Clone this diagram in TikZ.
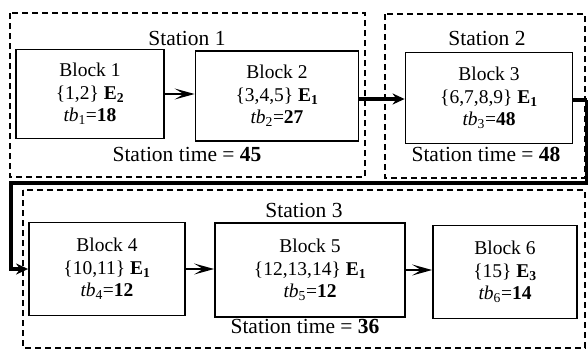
\documentclass[tikz,border=0pt]{standalone}
\usepackage{fontspec}
\setmainfont{Liberation Serif}
\usetikzlibrary{arrows.meta}
\tikzset{
  blk/.style={draw, line width=1.8pt, align=center, inner sep=0pt,
    font=\fontsize{19.5}{22.5}\selectfont},
  stn/.style={draw, dashed, dash pattern=on 6pt off 4pt, line width=1.4pt},
  lbl/.style={inner sep=0pt, font=\fontsize{21.5}{24}\selectfont},
  flow arrow/.style={line width=1.4pt, -{Stealth[length=20pt,width=11pt,inset=9pt]}},
  heavy arrow/.style={line width=4pt, -{Stealth[length=12pt,width=11pt]}},
  heavy line/.style={line width=4pt}
}
\begin{document}
\begin{tikzpicture}[x=1pt,y=-1pt]
\useasboundingbox (0,0) rectangle (588,351);
% stations
\draw[stn] (10,13) rectangle (365,177);
\draw[stn] (385,14) rectangle (585,178);
\draw[stn] (23,190) rectangle (585,348);
\node[lbl] (s1) at (187,38) {Station 1};
\node[lbl] (t1) at (187,154) {Station time = \textbf{45}};
\node[lbl] (s2) at (487,38) {Station 2};
\node[lbl] (t2) at (486,154) {Station time = \textbf{48}};
\node[lbl] (s3) at (304,210) {Station 3};
\node[lbl] (t3) at (305,326) {Station time = \textbf{36}};
% blocks
\node[blk, minimum width=148pt, minimum height=89pt] (b1) at (90,94)
  {Block 1\\ \{1,2\} \textbf{E}\textsubscript{\textbf{2}}\\ \textit{tb}\textsubscript{1}=\textbf{18}};
\node[blk, minimum width=163pt, minimum height=90pt] (b2) at (277,96)
  {Block 2\\ \{3,4,5\} \textbf{E}\textsubscript{\textbf{1}}\\ \textit{tb}\textsubscript{2}=\textbf{27}};
\node[blk, minimum width=167pt, minimum height=91pt] (b3) at (489,98)
  {Block 3\\ \{6,7,8,9\} \textbf{E}\textsubscript{\textbf{1}}\\ \textit{tb}\textsubscript{3}=\textbf{48}};
\node[blk, minimum width=156pt, minimum height=93pt] (b4) at (107,269)
  {Block 4\\ \{10,11\} \textbf{E}\textsubscript{\textbf{1}}\\ \textit{tb}\textsubscript{4}=\textbf{12}};
\node[blk, minimum width=190pt, minimum height=94pt] (b5) at (310,270)
  {Block 5\\ \{12,13,14\} \textbf{E}\textsubscript{\textbf{1}}\\ \textit{tb}\textsubscript{5}=\textbf{12}};
\node[blk, minimum width=144pt, minimum height=93pt] (b6) at (505,272)
  {Block 6\\ \{15\} \textbf{E}\textsubscript{\textbf{3}}\\ \textit{tb}\textsubscript{6}=\textbf{14}};
% connectors
\draw[flow arrow] (b1.east) -- (b2.west |- b1.east);
\draw[flow arrow] (b4.east) -- (b5.west |- b4.east);
\draw[flow arrow] (b5.east) -- (b6.west |- b5.east);
\draw[heavy arrow] (b2.east) ++(0,3) coordinate (a0) -- (a0 -| b3.west);
\coordinate (c1) at (587,100);
\coordinate (c2) at (587,183);
\coordinate (c3) at (11,183);
\coordinate (c4) at (11,269);
\draw[heavy line] (b3.east |- c1) -- (c1);
\draw[heavy arrow, line join=miter] (c1) -- (c2) -- (c3) -- (c4) -- (b4.west);
\end{tikzpicture}
\end{document}
